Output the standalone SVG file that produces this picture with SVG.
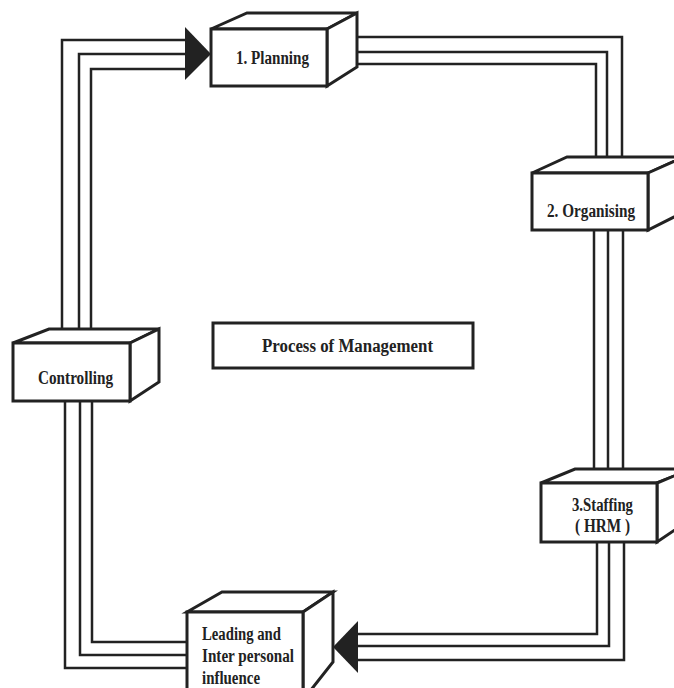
<svg xmlns="http://www.w3.org/2000/svg" width="674" height="688" viewBox="0 0 674 688">
<style>
.box{fill:#fff;stroke:#222;stroke-width:3;stroke-linejoin:miter}
.ln{fill:none;stroke:#222;stroke-width:2.5}
.ar{fill:#222;stroke:none}
.t{font-family:"Liberation Serif","Times New Roman",serif;font-weight:bold;font-size:18px;fill:#222}
</style>
<rect width="674" height="688" fill="#fff"/>
<g id="connectors">
  <path class="ln" d="M62,343 V40 H187"/>
  <path class="ln" d="M79,343 V54 H187"/>
  <path class="ln" d="M91,343 V69 H187"/>
  <polygon class="ar" points="185,27 211,54 185,80"/>
  <path class="ln" d="M357,37 H622 V157"/>
  <path class="ln" d="M357,52 H607 V157"/>
  <path class="ln" d="M357,64 H596 V157"/>
  <path class="ln" d="M594,230 V469"/>
  <path class="ln" d="M608,230 V469"/>
  <path class="ln" d="M623,230 V469"/>
  <path class="ln" d="M597,542 V634 H356"/>
  <path class="ln" d="M609,542 V646 H356"/>
  <path class="ln" d="M624,542 V660 H356"/>
  <polygon class="ar" points="358,621 333,647 358,673"/>
  <path class="ln" d="M92,401 V642 H187"/>
  <path class="ln" d="M80,401 V655 H187"/>
  <path class="ln" d="M65,401 V668 H187"/>
</g>
<g id="planning">
  <polygon class="box" points="211,29 247,13 357,13 327,29"/>
  <polygon class="box" points="327,29 357,13 357,67 327,86"/>
  <rect class="box" x="211" y="29" width="116" height="57"/>
  <text class="t" x="236" y="64" textLength="73" lengthAdjust="spacingAndGlyphs">1. Planning</text>
</g>
<g id="organising">
  <polygon class="box" points="532,173 567,157 684,157 648,173"/>
  <polygon class="box" points="648,173 684,157 684,212 648,230"/>
  <rect class="box" x="532" y="173" width="116" height="57"/>
  <text class="t" x="547" y="217" textLength="88" lengthAdjust="spacingAndGlyphs">2. Organising</text>
</g>
<g id="staffing">
  <polygon class="box" points="541,483 575,469 691,469 657,483"/>
  <polygon class="box" points="657,483 691,469 691,519 657,542"/>
  <rect class="box" x="541" y="483" width="116" height="59"/>
  <text class="t" x="572" y="511" textLength="61" lengthAdjust="spacingAndGlyphs">3.Staffing</text>
  <text class="t" x="575" y="532" textLength="55" lengthAdjust="spacingAndGlyphs">( HRM )</text>
</g>
<g id="leading">
  <polygon class="box" points="187,612 222,592 333,592 303,612"/>
  <polygon class="box" points="303,612 333,592 333,662 303,700"/>
  <rect class="box" x="187" y="612" width="116" height="90"/>
  <text class="t" x="202" y="640" textLength="79" lengthAdjust="spacingAndGlyphs">Leading and</text>
  <text class="t" x="202" y="662" textLength="92" lengthAdjust="spacingAndGlyphs">Inter personal</text>
  <text class="t" x="202" y="684" textLength="58" lengthAdjust="spacingAndGlyphs">influence</text>
</g>
<g id="controlling">
  <polygon class="box" points="13,343 49,329 159,329 130,343"/>
  <polygon class="box" points="130,343 159,329 159,382 130,401"/>
  <rect class="box" x="13" y="343" width="117" height="58"/>
  <text class="t" x="38" y="384" textLength="75" lengthAdjust="spacingAndGlyphs">Controlling</text>
</g>
<g id="process">
  <rect class="box" x="213" y="323" width="260" height="45"/>
  <text class="t" x="262" y="352" textLength="171" lengthAdjust="spacingAndGlyphs">Process of Management</text>
</g>
</svg>
